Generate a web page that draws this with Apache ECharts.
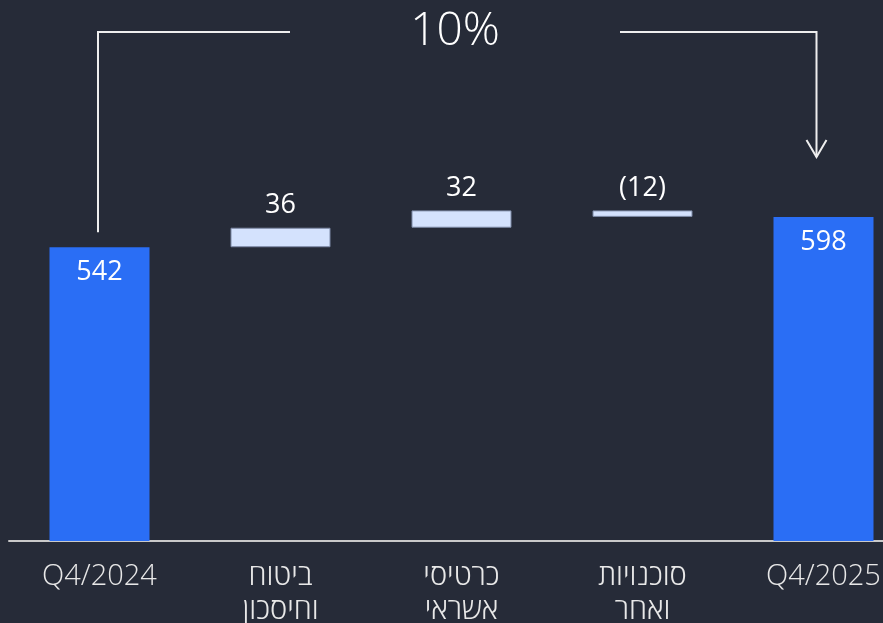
<!DOCTYPE html>
<html>
<head>
<meta charset="utf-8">
<script src="https://cdn.jsdelivr.net/npm/echarts@6/dist/echarts.min.js"></script>
<style>
  html, body { margin: 0; padding: 0; background: #262b38; }
  #chart { width: 883px; height: 623px; }
</style>
</head>
<body>
<div id="chart"></div>
<script>
const categories = ['Q4/2024', 'ביטוח\nוחיסכון', 'כרטיסי\nאשראי', 'סוכנויות\nואחר', 'Q4/2025'];
const changes = [542, 36, 32, -12, 598];
const isTotal = [true, false, false, false, true];
const valueLabels = ['542', '36', '32', '(12)', '598'];
const growthLabel = '10%';

// build invisible base + visible bar for the waterfall
let running = 0;
const baseData = [];
const barData = [];
changes.forEach((v, i) => {
  if (isTotal[i]) {
    baseData.push(0);
    barData.push(v);
    running = v;
  } else {
    baseData.push(Math.min(running, running + v));
    barData.push(Math.abs(v));
    running += v;
  }
});

const chart = echarts.init(document.getElementById('chart'));

const option = {
  backgroundColor: '#262b38',
  animation: false,
  grid: { left: 9, width: 905, top: -1, height: 542, outerBoundsMode: 'none', containLabel: false },
  xAxis: {
    type: 'category',
    data: categories,
    axisLine: { lineStyle: { color: '#c9c9c9', width: 2 } },
    axisTick: { show: false },
    axisLabel: {
      color: '#e8e8e8',
      fontFamily: 'Open Sans',
      fontWeight: 300,
      fontSize: 29,
      lineHeight: 34,
      margin: 19,
      interval: 0
    }
  },
  yAxis: {
    type: 'value',
    min: 0,
    max: 1000,
    show: false,
    splitLine: { show: false }
  },
  series: [
    {
      type: 'bar',
      stack: 'wf',
      data: baseData,
      barWidth: 100,
      itemStyle: { color: 'transparent' },
      silent: true
    },
    {
      type: 'bar',
      stack: 'wf',
      barWidth: 100,
      data: barData.map((v, i) => ({
        value: v,
        itemStyle: isTotal[i]
          ? { color: '#2a6ef5' }
          : { color: '#d4e2fd', borderColor: '#7d8aa6', borderWidth: 1 },
        label: isTotal[i]
          ? { position: 'insideTop', distance: 12 }
          : { position: 'top', distance: 9 }
      })),
      label: {
        show: true,
        color: '#ffffff',
        fontFamily: 'Open Sans',
        fontSize: 27,
        formatter: p => valueLabels[p.dataIndex]
      }
    }
  ]
};

chart.setOption(option);

// growth bracket from first total to last total
const xFirst = chart.convertToPixel({ xAxisIndex: 0 }, 0) - 1.5;
const xLast = chart.convertToPixel({ xAxisIndex: 0 }, categories.length - 1) - 7;
const yFirstTop = chart.convertToPixel({ yAxisIndex: 0 }, changes[0]);
const yTop = 32;
const lineStyle = { stroke: '#eeeeee', lineWidth: 2, fill: null };

chart.setOption({
  graphic: [
    {
      type: 'polyline',
      shape: { points: [[xFirst, yFirstTop - 15], [xFirst, yTop], [290, yTop]] },
      style: lineStyle
    },
    {
      type: 'polyline',
      shape: { points: [[620, yTop], [xLast, yTop], [xLast, 157]] },
      style: lineStyle
    },
    {
      type: 'polyline',
      shape: { points: [[xLast - 10, 140], [xLast, 157], [xLast + 10, 140]] },
      style: lineStyle
    },
    {
      type: 'text',
      x: 455,
      y: yTop,
      style: {
        text: growthLabel,
        fill: '#ffffff',
        font: '300 46px "Open Sans"',
        textAlign: 'center',
        textVerticalAlign: 'middle'
      }
    }
  ]
});
</script>
</body>
</html>
